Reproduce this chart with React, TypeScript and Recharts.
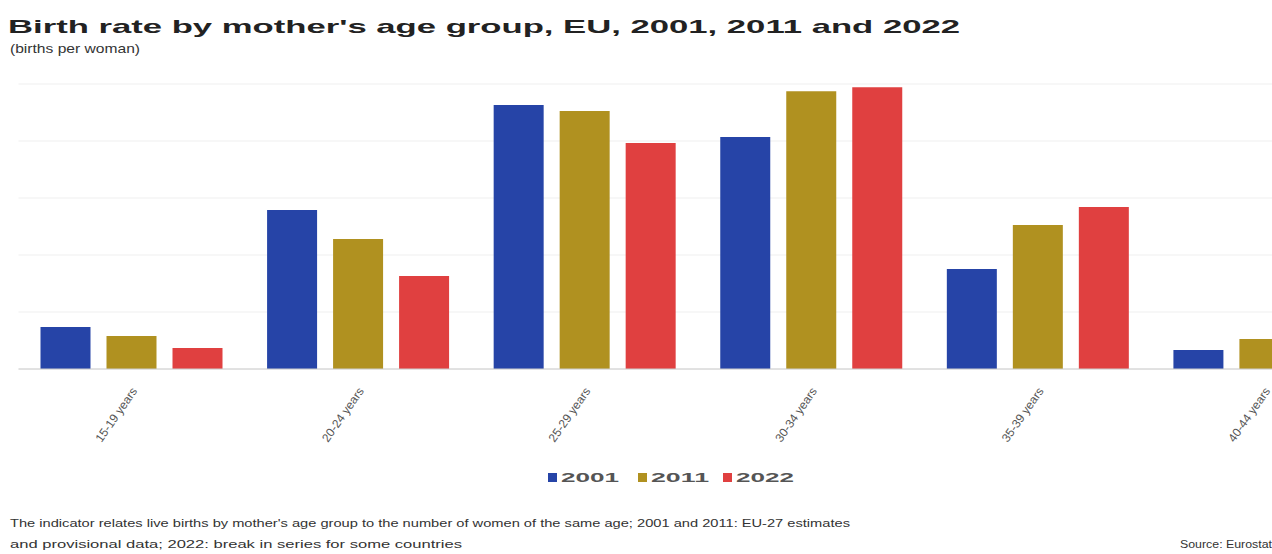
import { Bar, BarChart, CartesianGrid, XAxis, YAxis } from "recharts";

const ageGroups = ["15-19 years", "20-24 years", "25-29 years", "30-34 years", "35-39 years", "40-44 years"];
const births2001 = [14.7, 55.8, 92.6, 81.4, 35.1, 6.7];
const births2011 = [11.6, 45.6, 90.5, 97.5, 50.5, 10.5];
const births2022 = [7.4, 32.6, 79.3, 98.9, 56.8, 12.4];
const yTicks = [0, 20, 40, 60, 80, 100];

const series = [
  { key: "y2001", label: "2001", color: "#2644A7" },
  { key: "y2011", label: "2011", color: "#B09120" },
  { key: "y2022", label: "2022", color: "#E04040" }
];

const data = ageGroups.map((group, i) => ({
  group,
  y2001: births2001[i],
  y2011: births2011[i],
  y2022: births2022[i]
}));

const font = "'Liberation Sans', Arial, sans-serif";

const AgeTick = ({ x, y, payload }: any) => (
  <text
    x={x + 6}
    y={y + 14}
    transform={`rotate(-55, ${x + 6}, ${y + 14})`}
    textAnchor="end"
    fontSize={12}
    fontFamily={font}
    fill="#555"
  >
    {payload.value}
  </text>
);

const legendX = [540, 630, 715];

export default function App() {
  return (
    <div
      style={{
        position: "absolute",
        top: 8,
        left: 8,
        width: 1264,
        height: 546,
        overflow: "hidden",
        background: "#fff"
      }}
    >
      <BarChart
        width={1380}
        height={441}
        data={data}
        margin={{ top: 76, right: 10, left: 10.5, bottom: 0 }}
        barGap={16}
        barSize={50}
        style={{ position: "absolute", top: 0, left: 0 }}
      >
        <CartesianGrid vertical={false} stroke="#efefef" />
        <YAxis hide domain={[0, 100]} ticks={yTicks} />
        <XAxis
          dataKey="group"
          interval={0}
          height={80}
          tick={<AgeTick />}
          tickLine={false}
          axisLine={{ stroke: "#cccccc" }}
        />
        {series.map((s) => (
          <Bar key={s.key} dataKey={s.key} name={s.label} fill={s.color} isAnimationActive={false} />
        ))}
      </BarChart>

      <svg
        width={1264}
        height={546}
        style={{ position: "absolute", top: 0, left: 0, pointerEvents: "none" }}
        fontFamily={font}
      >
        <text x={0} y={25} fontSize={19} fontWeight="bold" fill="#222" textLength={952} lengthAdjust="spacingAndGlyphs">
          Birth rate by mother's age group, EU, 2001, 2011 and 2022
        </text>
        <text x={2} y={45} fontSize={13} fill="#333" textLength={130} lengthAdjust="spacingAndGlyphs">
          (births per woman)
        </text>

        {series.map((s, i) => (
          <g key={s.key}>
            <rect x={legendX[i]} y={465} width={9} height={9} fill={s.color} />
            <text x={legendX[i] + 13} y={474} fontSize={13} fontWeight="bold" fill="#555" textLength={58} lengthAdjust="spacingAndGlyphs">
              {s.label}
            </text>
          </g>
        ))}

        <text x={2} y={519} fontSize={11} fill="#333" textLength={840} lengthAdjust="spacingAndGlyphs">
          The indicator relates live births by mother's age group to the number of women of the same age; 2001 and 2011: EU-27 estimates
        </text>
        <text x={2} y={540} fontSize={11} fill="#333" textLength={452} lengthAdjust="spacingAndGlyphs">
          and provisional data; 2022: break in series for some countries
        </text>
        <text x={1172} y={540} fontSize={11} fill="#333" textLength={92} lengthAdjust="spacingAndGlyphs">
          Source: Eurostat
        </text>
      </svg>
    </div>
  );
}
